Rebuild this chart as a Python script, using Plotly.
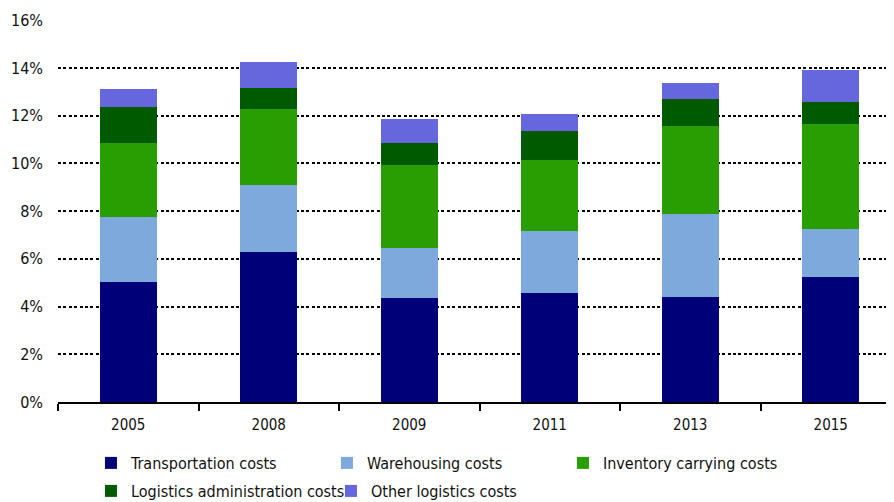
import plotly.graph_objects as go

years = ["2005", "2008", "2009", "2011", "2013", "2015"]
transportation = [5.05, 6.27, 4.36, 4.57, 4.40, 5.22]
warehousing = [2.70, 2.81, 2.10, 2.59, 3.46, 2.01]
inventory = [3.09, 3.18, 3.47, 2.98, 3.70, 4.44]
administration = [1.52, 0.91, 0.91, 1.21, 1.14, 0.90]
other = [0.74, 1.10, 1.03, 0.74, 0.69, 1.35]

series = [
    ("Transportation costs", transportation, "#000078", "legend"),
    ("Warehousing costs", warehousing, "#7EA9DD", "legend"),
    ("Inventory carrying costs", inventory, "#299E00", "legend"),
    ("Logistics administration costs", administration, "#005A00", "legend2"),
    ("Other logistics costs", other, "#6666DD", "legend2"),
]

FONT = "Liberation Sans Narrow, DejaVu Sans Condensed, Roboto Condensed, Arial Narrow, sans-serif"

fig = go.Figure()
for name, vals, color, leg in series:
    fig.add_trace(go.Bar(
        x=years, y=[v / 100 for v in vals], name=name,
        marker=dict(color=color, line=dict(width=0)),
        width=0.406, legend=leg,
    ))

leg_common = dict(orientation="h", xref="container", yref="container",
                  xanchor="left", yanchor="top", traceorder="normal",
                  entrywidthmode="pixels",
                  font=dict(family=FONT, size=16), bgcolor="rgba(0,0,0,0)")

fig.update_layout(
    barmode="stack",
    width=894, height=502,
    margin=dict(l=50, r=0, t=12, b=108, autoexpand=False),
    plot_bgcolor="white", paper_bgcolor="white",
    font=dict(family=FONT, size=15, color="#111111"),
    showlegend=True,
    legend=dict(x=0.0928, y=0.1275, entrywidth=191, **leg_common),
    legend2=dict(x=0.0928, y=0.0717, entrywidth=195, **leg_common),
)

fig.update_xaxes(
    type="category", range=[-0.5, 5.507], automargin=False,
    showline=True, linecolor="black", linewidth=2,
    ticks="outside", tickson="boundaries", ticklen=7, tickwidth=2, tickcolor="black",
    showgrid=False, tickfont=dict(size=15), ticklabelstandoff=8,
)
fig.update_yaxes(
    range=[0, 0.1601], dtick=0.02, tickformat=".0%", automargin=False,
    showgrid=True, gridcolor="black", gridwidth=2, griddash="3px,2.4px",
    zeroline=False, showline=False, ticks="", tickfont=dict(size=16),
    ticklabelstandoff=14,
)

fig.write_html("out.html")
